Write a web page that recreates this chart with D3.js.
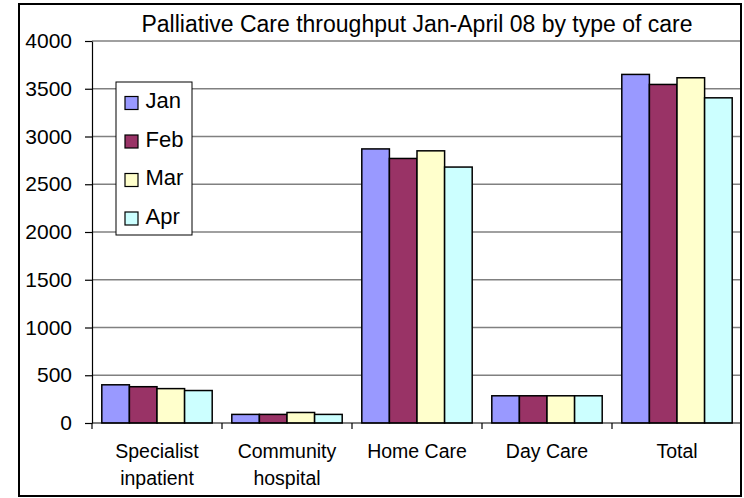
<!DOCTYPE html>
<html>
<head>
<meta charset="utf-8">
<script src="https://cdn.jsdelivr.net/npm/d3@7"></script>
<style>
  body { margin: 0; background: #fff; }
  text { font-family: "Liberation Sans", Arial, sans-serif; fill: #000; }
</style>
</head>
<body>
<div id="chart"></div>
<script>
const categories = [["Specialist", "inpatient"], ["Community", "hospital"], ["Home Care"], ["Day Care"], ["Total"]];
const months = ["Jan", "Feb", "Mar", "Apr"];
const colors = ["#9999FF", "#993366", "#FFFFCC", "#CCFFFF"];
const jan = [400, 90, 2870, 285, 3650];
const feb = [380, 90, 2770, 285, 3545];
const mar = [360, 110, 2850, 285, 3615];
const apr = [340, 90, 2680, 285, 3405];
const yTicks = [0, 500, 1000, 1500, 2000, 2500, 3000, 3500, 4000];
const title = "Palliative Care throughput Jan-April 08 by type of care";

const width = 744, height = 498;
const plotLeft = 92, plotRight = 742, plotTop = 41, plotBottom = 423;
const series = [jan, feb, mar, apr];

const svg = d3.select("#chart").append("svg")
    .attr("width", width)
    .attr("height", height);

// chart area border
svg.append("rect")
    .attr("x", 19).attr("y", 4)
    .attr("width", 722).attr("height", 492)
    .attr("fill", "#fff")
    .attr("stroke", "#000")
    .attr("stroke-width", 2);

svg.append("clipPath").attr("id", "clip")
    .append("rect").attr("x", 19).attr("y", 4).attr("width", 721).attr("height", 492);

const y = d3.scaleLinear().domain([0, 4000]).range([plotBottom, plotTop]);
const x0 = d3.scaleBand().domain(d3.range(categories.length)).range([plotLeft, plotRight]);
const x1 = d3.scaleBand().domain(d3.range(months.length))
    .range([0, x0.bandwidth()]).paddingOuter(0.355);

const plot = svg.append("g").attr("clip-path", "url(#clip)");

// gridlines
plot.selectAll(".grid")
    .data(yTicks.filter(d => d > 0))
    .join("line")
    .attr("x1", plotLeft).attr("x2", plotRight)
    .attr("y1", d => y(d)).attr("y2", d => y(d))
    .attr("stroke", "#808080")
    .attr("stroke-width", 1.5);

// bars
const groups = plot.selectAll(".cat")
    .data(categories)
    .join("g")
    .attr("transform", (d, i) => `translate(${x0(i)},0)`);

groups.selectAll("rect")
    .data((d, i) => series.map((s, m) => ({ m, v: s[i] })))
    .join("rect")
    .attr("x", d => x1(d.m))
    .attr("width", x1.bandwidth())
    .attr("y", d => y(d.v))
    .attr("height", d => plotBottom - y(d.v))
    .attr("fill", d => colors[d.m])
    .attr("stroke", "#000")
    .attr("stroke-width", 1.5);

// y axis
const yAxis = svg.append("g")
    .attr("transform", `translate(${plotLeft},0)`)
    .call(d3.axisLeft(y).tickValues(yTicks).tickFormat(d3.format("d"))
        .tickSize(7).tickPadding(13).tickSizeOuter(0));
yAxis.select(".domain").attr("stroke", "#000").attr("stroke-width", 1.2);
yAxis.selectAll(".tick line").attr("stroke", "#000").attr("stroke-width", 1.2);
yAxis.selectAll(".tick text")
    .style("font-size", "21px")
    .style("font-family", "Liberation Sans, Arial, sans-serif")
    .attr("fill", "#000");

// x axis
const xLine = svg.append("g").attr("clip-path", "url(#clip)");
xLine.append("line")
    .attr("x1", plotLeft).attr("x2", plotRight)
    .attr("y1", plotBottom).attr("y2", plotBottom)
    .attr("stroke", "#000").attr("stroke-width", 1.2);
xLine.selectAll(".xtick")
    .data(d3.range(categories.length + 1))
    .join("line")
    .attr("x1", d => plotLeft + d * x0.step()).attr("x2", d => plotLeft + d * x0.step())
    .attr("y1", plotBottom).attr("y2", plotBottom + 6)
    .attr("stroke", "#000").attr("stroke-width", 1.2);

svg.selectAll(".xlabel")
    .data(categories)
    .join("text")
    .attr("text-anchor", "middle")
    .style("font-size", "19.5px")
    .each(function (d, i) {
        d3.select(this).selectAll("tspan")
            .data(d)
            .join("tspan")
            .attr("x", x0(i) + x0.bandwidth() / 2)
            .attr("y", (t, k) => 458 + k * 27)
            .text(t => t);
    });

// title
svg.append("text")
    .attr("x", (plotLeft + plotRight) / 2)
    .attr("y", 32)
    .attr("text-anchor", "middle")
    .style("font-size", "23px")
    .text(title);

// legend
const legend = svg.append("g").attr("transform", "translate(116,82)");
legend.append("rect")
    .attr("width", 76).attr("height", 153)
    .attr("fill", "#fff")
    .attr("stroke", "#000")
    .attr("stroke-width", 1);
const items = legend.selectAll(".item")
    .data(months)
    .join("g")
    .attr("transform", (d, i) => `translate(0,${21 + i * 38.5})`);
items.append("rect")
    .attr("x", 9).attr("y", -6.5)
    .attr("width", 13).attr("height", 13)
    .attr("fill", (d, i) => colors[i])
    .attr("stroke", "#000")
    .attr("stroke-width", 1.2);
items.append("text")
    .attr("x", 29.5).attr("y", 5)
    .style("font-size", "22px")
    .text(d => d);
</script>
</body>
</html>
